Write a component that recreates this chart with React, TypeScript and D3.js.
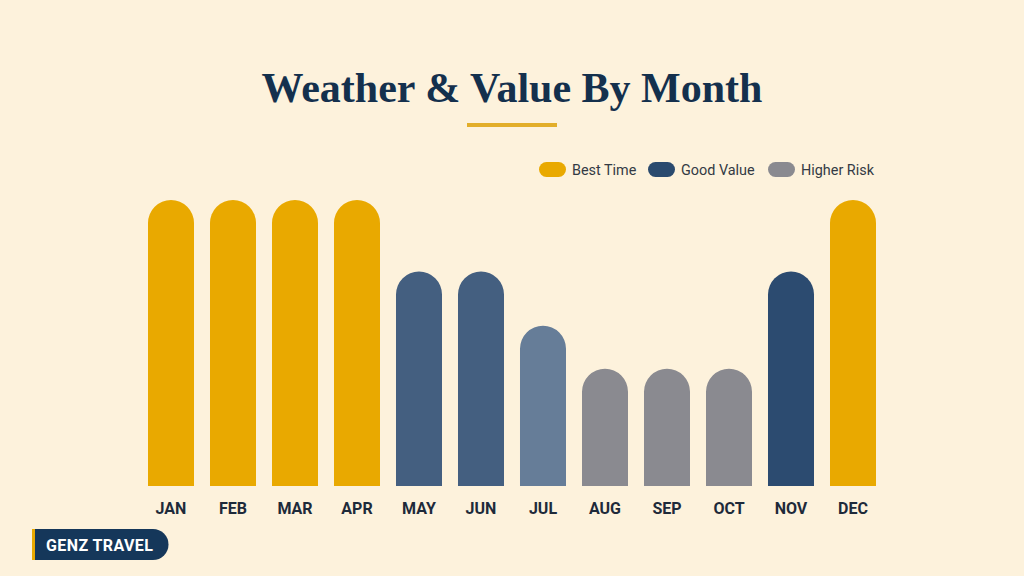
import React from "react";
import * as d3 from "d3";

const months = ["JAN", "FEB", "MAR", "APR", "MAY", "JUN", "JUL", "AUG", "SEP", "OCT", "NOV", "DEC"];
const scores = [100, 100, 100, 100, 75, 75, 56, 41, 41, 41, 75, 100];
const fills = ["#E9A900", "#E9A900", "#E9A900", "#E9A900", "#445F80", "#445F80", "#667D98", "#8A8A90", "#8A8A90", "#8A8A90", "#2C4B70", "#E9A900"];
const legendLabels = ["Best Time", "Good Value", "Higher Risk"];
const legendColors = ["#E9A900", "#2A4A6E", "#8A8A90"];

const W = 1024;
const H = 576;
const plotLeft = 148;
const plotRight = 876;
const baseY = 486;
const topY = 200;

export default function App() {
  const x = d3.scaleBand<string>().domain(months).range([plotLeft, plotRight]).paddingInner(0.258).paddingOuter(0);
  const y = d3.scaleLinear().domain([0, 100]).range([baseY, topY]);
  const bw = x.bandwidth();
  const r = bw / 2;

  const barPath = (m: string, v: number) => {
    const x0 = x(m) as number;
    const yt = y(v);
    const p = d3.path();
    p.moveTo(x0, baseY);
    p.lineTo(x0, yt + r);
    p.arc(x0 + r, yt + r, r, Math.PI, 0);
    p.lineTo(x0 + bw, baseY);
    p.closePath();
    return p.toString();
  };

  const legendX = [539, 648, 768];

  return (
    <svg width={W} height={H} style={{ position: "absolute", left: 0, top: 0 }}>
      <rect width={W} height={H} fill="#FDF2DC" />
      <text x={512} y={102} textAnchor="middle" fontFamily="'Liberation Serif', 'DejaVu Serif', serif" fontWeight="bold" fontSize={42} fill="#14304D">
        Weather &amp; Value By Month
      </text>
      <rect x={467} y={123} width={90} height={4} fill="#E2AE2A" />
      {legendLabels.map((l, i) => (
        <g key={l}>
          <rect x={legendX[i]} y={162} width={27} height={15} rx={7.5} fill={legendColors[i]} />
          <text x={legendX[i] + 33} y={174.5} fontFamily="Roboto, 'Noto Sans', sans-serif" fontSize={14.4} fill="#333A44">
            {l}
          </text>
        </g>
      ))}
      {months.map((m, i) => (
        <path key={m} d={barPath(m, scores[i])} fill={fills[i]} />
      ))}
      {months.map((m) => (
        <text key={m + "l"} x={(x(m) as number) + r} y={514} textAnchor="middle" fontFamily="'Liberation Sans Narrow', Roboto, sans-serif" fontWeight="bold" fontSize={16} fill="#1E2A3A">
          {m}
        </text>
      ))}
      <path d="M32,529 H153 A15.5,15.5 0 0 1 153,560 H32 Z" fill="#15375A" />
      <rect x={32} y={529} width={3} height={31} fill="#E9A900" />
      <text x={46} y={550.5} fontFamily="Roboto, 'Noto Sans', sans-serif" fontWeight="bold" fontSize={16} letterSpacing={0.4} fill="#FFFFFF">
        GENZ TRAVEL
      </text>
    </svg>
  );
}
